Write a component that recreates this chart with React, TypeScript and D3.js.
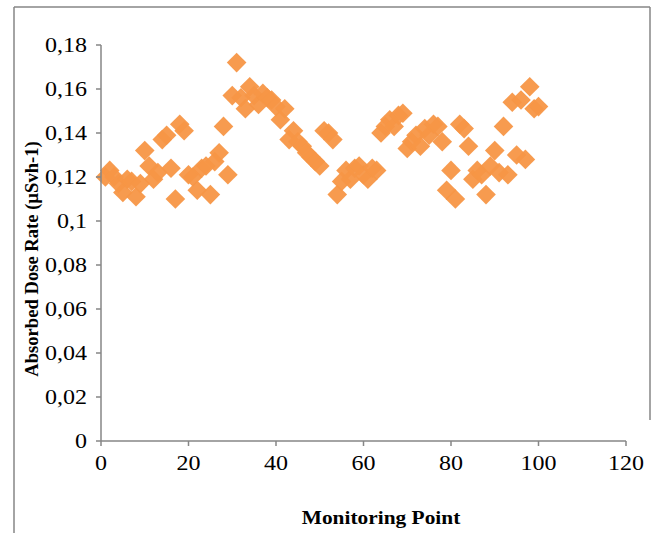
import React from "react";
import * as d3 from "d3";

const monitoringPoints: number[] = Array.from({ length: 100 }, (_, i) => i + 1);
const doseRates: number[] = [
  0.120, 0.123, 0.120, 0.117, 0.113, 0.119, 0.118, 0.111, 0.117, 0.132,
  0.125, 0.119, 0.122, 0.137, 0.139, 0.124, 0.110, 0.144, 0.141, 0.121,
  0.120, 0.114, 0.124, 0.125, 0.112, 0.127, 0.131, 0.143, 0.121, 0.157,
  0.172, 0.156, 0.151, 0.161, 0.157, 0.153, 0.158, 0.156, 0.155, 0.152,
  0.146, 0.151, 0.137, 0.141, 0.136, 0.134, 0.131, 0.129, 0.127, 0.125,
  0.141, 0.140, 0.137, 0.112, 0.118, 0.123, 0.119, 0.124, 0.125, 0.121,
  0.119, 0.124, 0.123, 0.140, 0.143, 0.146, 0.143, 0.148, 0.149, 0.133,
  0.136, 0.139, 0.134, 0.142, 0.139, 0.144, 0.143, 0.136, 0.114, 0.123,
  0.110, 0.144, 0.142, 0.134, 0.119, 0.123, 0.121, 0.112, 0.125, 0.132,
  0.122, 0.143, 0.121, 0.154, 0.130, 0.155, 0.128, 0.161, 0.151, 0.152,
];
const xTicks: number[] = [0, 20, 40, 60, 80, 100, 120];
const yTicks: number[] = [0, 0.02, 0.04, 0.06, 0.08, 0.1, 0.12, 0.14, 0.16, 0.18];
const xTitle = "Monitoring Point";
const yTitle = "Absorbed Dose Rate (µSvh-1)";

const FONT = "'Liberation Serif', 'Times New Roman', serif";
const AXIS = "#868686";
const MARK = "#F79646";
const SX = 1.15;
const TSX = 1.2;

const fmtY = (v: number) => {
  if (v === 0) return "0";
  return String(+v.toFixed(2)).replace(".", ",");
};

export default function App() {
  const x = d3.scaleLinear().domain([0, 120]).range([101, 626]);
  const y = d3.scaleLinear().domain([0, 0.18]).range([441, 45]);
  const r = 9.8;
  const diamond = `M0,${-r}L${r},0L0,${r}L${-r},0Z`;
  const pts = monitoringPoints.map((p, i) => ({ p, v: doseRates[i] }));

  return (
    <svg
      width={659}
      height={533}
      style={{ position: "absolute", left: 0, top: 0, background: "#fff" }}
      fontFamily={FONT}
    >
      {/* frame */}
      <line x1={14} y1={7} x2={650} y2={7} stroke={AXIS} strokeWidth={1.5} />
      <line x1={14} y1={7} x2={14} y2={533} stroke={AXIS} strokeWidth={1.5} />
      <line x1={650} y1={7} x2={650} y2={420} stroke={AXIS} strokeWidth={1.5} />

      {/* markers */}
      <g>
        {pts.map((d, i) => (
          <path
            key={i}
            d={diamond}
            transform={`translate(${x(d.p)},${y(d.v)})`}
            fill={MARK}
            fillOpacity={0.95}
          />
        ))}
      </g>

      {/* y axis */}
      <line x1={x(0)} y1={y(0)} x2={x(0)} y2={y(0.18)} stroke={AXIS} strokeWidth={1.5} />
      {yTicks.map((t) => (
        <g key={t}>
          <line x1={x(0) - 5} x2={x(0)} y1={y(t)} y2={y(t)} stroke={AXIS} strokeWidth={1.5} />
          <text
            transform={`translate(${x(0) - 14},${y(t)}) scale(${TSX},1)`}
            textAnchor="end"
            dominantBaseline="central"
            fontSize={20}
            fill="#000"
          >
            {fmtY(t)}
          </text>
        </g>
      ))}

      {/* x axis */}
      <line x1={x(0)} y1={y(0)} x2={x(120)} y2={y(0)} stroke={AXIS} strokeWidth={1.5} />
      {xTicks.map((t) => (
        <g key={t}>
          <line x1={x(t)} x2={x(t)} y1={y(0)} y2={y(0) + 5} stroke={AXIS} strokeWidth={1.5} />
          <text
            transform={`translate(${x(t)},${y(0) + 22}) scale(${TSX},1)`}
            textAnchor="middle"
            dominantBaseline="central"
            fontSize={20}
            fill="#000"
          >
            {t}
          </text>
        </g>
      ))}

      {/* titles */}
      <text
        transform={`translate(381,524) scale(${SX},1)`}
        textAnchor="middle"
        fontSize={18.6}
        fontWeight="bold"
        fill="#000"
      >
        {xTitle}
      </text>
      <text
        transform={`translate(38,259) rotate(-90)`}
        textAnchor="middle"
        fontSize={18.6}
        fontWeight="bold"
        fill="#000"
      >
        {yTitle}
      </text>
    </svg>
  );
}
